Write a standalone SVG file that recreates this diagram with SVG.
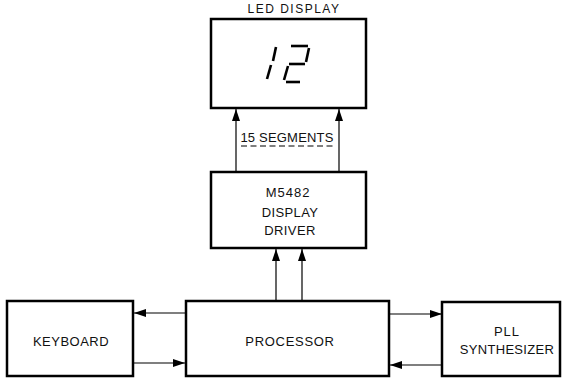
<svg xmlns="http://www.w3.org/2000/svg" width="562" height="378" viewBox="0 0 562 378">
<defs>
<style>
.box{fill:#fff;stroke:#000;stroke-width:2.5}
.lbl{font-family:"Liberation Sans","DejaVu Sans",Arial,sans-serif;font-size:13px;fill:#111;text-anchor:middle}
.cn{stroke:#000;stroke-width:1.2;fill:none}
.seg{stroke:#000;stroke-width:2.6;stroke-linecap:butt;fill:none}
</style>
<marker id="ah" viewBox="0 0 12 8" refX="12" refY="4" markerWidth="12" markerHeight="8" markerUnits="userSpaceOnUse" orient="auto">
<path d="M0,0 L12,4 L0,8 Z" fill="#000"/>
</marker>
</defs>
<rect width="562" height="378" fill="#fff"/>

<g id="connectors">
<line class="cn" x1="236" y1="172" x2="236" y2="109" marker-end="url(#ah)"/>
<line class="cn" x1="339" y1="172" x2="339" y2="109" marker-end="url(#ah)"/>
<line class="cn" x1="276" y1="301" x2="276" y2="249" marker-end="url(#ah)"/>
<line class="cn" x1="302" y1="301" x2="302" y2="249" marker-end="url(#ah)"/>
<line class="cn" x1="186" y1="313" x2="134" y2="313" marker-end="url(#ah)"/>
<line class="cn" x1="134" y1="363" x2="185" y2="363" marker-end="url(#ah)"/>
<line class="cn" x1="389" y1="314" x2="442" y2="314" marker-end="url(#ah)"/>
<line class="cn" x1="442" y1="365" x2="390" y2="365" marker-end="url(#ah)"/>
<text class="lbl" x="287" y="142" style="letter-spacing:0.2px">15 SEGMENTS</text>
<line x1="241" y1="146" x2="334" y2="146" stroke="#000" stroke-width="1.2" stroke-dasharray="6,3.5"/>
</g>

<g id="led-display">
<text class="lbl" x="294" y="13" style="font-size:12px;letter-spacing:1.5px">LED DISPLAY</text>
<rect class="box" x="211" y="19" width="155" height="89"/>
<g class="seg">
<line x1="276" y1="47" x2="273" y2="61"/>
<line x1="271" y1="65" x2="267" y2="79"/>
<line x1="291" y1="46" x2="308" y2="46"/>
<line x1="309" y1="48" x2="306" y2="62"/>
<line x1="289" y1="64" x2="305" y2="64"/>
<line x1="288" y1="66" x2="284" y2="80"/>
<line x1="286" y1="82" x2="300" y2="82"/>
</g>
</g>

<g id="display-driver">
<rect class="box" x="211" y="172" width="155" height="76"/>
<text class="lbl" x="288" y="197" style="letter-spacing:1px">M5482</text>
<text class="lbl" x="290" y="217" style="letter-spacing:0.4px">DISPLAY</text>
<text class="lbl" x="290" y="235" style="letter-spacing:0.4px">DRIVER</text>
</g>

<g id="keyboard">
<rect class="box" x="7" y="301" width="126" height="75"/>
<text class="lbl" x="71" y="346" style="letter-spacing:0.5px">KEYBOARD</text>
</g>

<g id="processor">
<rect class="box" x="186" y="301" width="203" height="75"/>
<text class="lbl" x="290" y="346" style="letter-spacing:0.7px">PROCESSOR</text>
</g>

<g id="pll-synthesizer">
<rect class="box" x="442" y="302" width="118" height="74"/>
<text class="lbl" x="507" y="336" style="letter-spacing:1px">PLL</text>
<text class="lbl" x="507" y="354" style="letter-spacing:0.3px">SYNTHESIZER</text>
</g>
</svg>
